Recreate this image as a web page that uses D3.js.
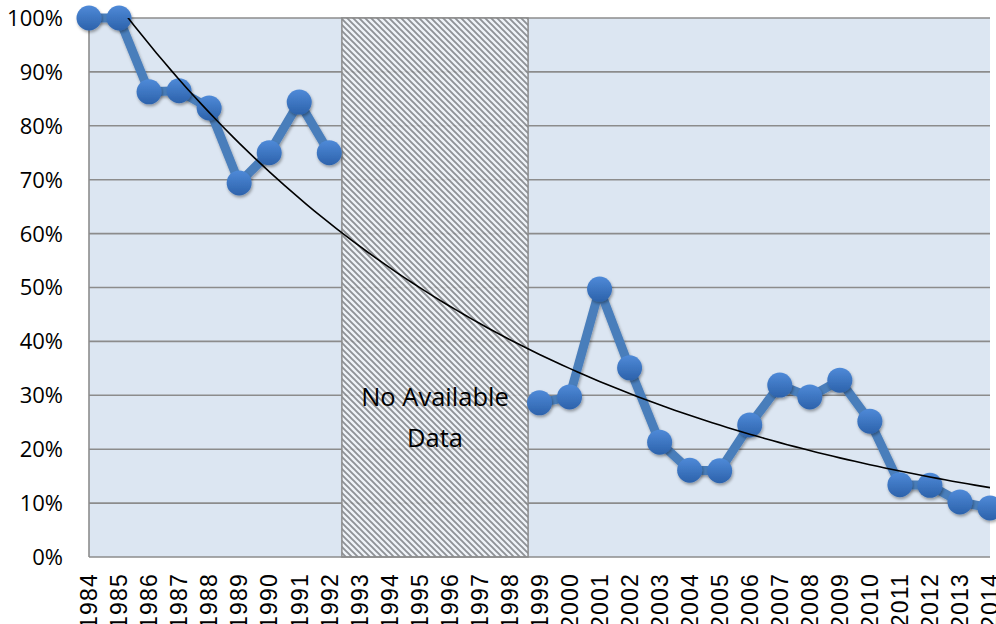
<!DOCTYPE html>
<html>
<head>
<meta charset="utf-8">
<script src="https://cdn.jsdelivr.net/npm/d3@7"></script>
<style>
  body { margin: 0; background: #fff; }
  svg { display: block; }
</style>
</head>
<body>
<svg id="chart"></svg>
<script>
const width = 996;
const height = 624;

// Data (percent); null = no data for that year
const years = [1984, 1985, 1986, 1987, 1988, 1989, 1990, 1991, 1992, 1993,
  1994, 1995, 1996, 1997, 1998, 1999, 2000, 2001, 2002, 2003, 2004, 2005,
  2006, 2007, 2008, 2009, 2010, 2011, 2012, 2013, 2014];
const share = [100, 100, 86.3, 86.5, 83.3, 69.4, 75, 84.4, 75, null,
  null, null, null, null, null, 28.6, 29.7, 49.7, 35.1, 21.3, 16.1, 16.0,
  24.5, 31.9, 29.7, 32.8, 25.2, 13.4, 13.3, 10.2, 9.1];
const yTicks = [0, 10, 20, 30, 40, 50, 60, 70, 80, 90, 100];
const gapYears = [1992.42, 1998.62];
const gapLabel = ["No Available", "Data"];

const margin = { top: 18, right: 6, bottom: 67, left: 89 };
const innerW = width - margin.left - margin.right;
const innerH = height - margin.top - margin.bottom;

const svg = d3.select("#chart")
  .attr("width", width)
  .attr("height", height);

const defs = svg.append("defs");

// Diagonal hatch for the gap
const hatch = defs.append("pattern")
  .attr("id", "hatch")
  .attr("patternUnits", "userSpaceOnUse")
  .attr("width", 6)
  .attr("height", 6);
hatch.append("rect")
  .attr("width", 6).attr("height", 6)
  .attr("fill", "#f2f5f9");
hatch.append("path")
  .attr("d", "M0,0L6,6M-3,3L3,9M3,-3L9,3")
  .attr("stroke", "#84868a")
  .attr("stroke-width", 1.9);

// Marker shading
const grad = defs.append("linearGradient")
  .attr("id", "dotGrad")
  .attr("x1", 0).attr("y1", 0).attr("x2", 0).attr("y2", 1);
grad.append("stop").attr("offset", "0%").attr("stop-color", "#4f8ad8");
grad.append("stop").attr("offset", "100%").attr("stop-color", "#2c62ab");

const shadow = defs.append("filter")
  .attr("id", "shadow")
  .attr("x", "-50%").attr("y", "-50%")
  .attr("width", "200%").attr("height", "200%");
shadow.append("feDropShadow")
  .attr("dx", 1).attr("dy", 2)
  .attr("stdDeviation", 1.5)
  .attr("flood-color", "#000")
  .attr("flood-opacity", 0.35);

defs.append("clipPath").attr("id", "plotClip")
  .append("rect")
  .attr("width", innerW)
  .attr("height", innerH);

const g = svg.append("g")
  .attr("transform", `translate(${margin.left},${margin.top})`);

const x = d3.scaleLinear()
  .domain([years[0], years[years.length - 1]])
  .range([0, innerW]);

const y = d3.scaleLinear()
  .domain([0, 100])
  .range([innerH, 0]);

// Plot background
g.append("rect")
  .attr("width", innerW)
  .attr("height", innerH)
  .attr("fill", "#dce6f2");

// Horizontal gridlines
g.append("g")
  .selectAll("line")
  .data(yTicks.filter(d => d > 0))
  .enter().append("line")
  .attr("x1", 0)
  .attr("x2", innerW)
  .attr("y1", d => y(d))
  .attr("y2", d => y(d))
  .attr("stroke", "#8c8c8c")
  .attr("stroke-width", 1.6);

// Gap region
const gapMid = (x(gapYears[0]) + x(gapYears[1])) / 2;
g.append("rect")
  .attr("x", x(gapYears[0]))
  .attr("y", 0)
  .attr("width", x(gapYears[1]) - x(gapYears[0]))
  .attr("height", innerH)
  .attr("fill", "url(#hatch)")
  .attr("fill-opacity", 0.88)
  .attr("stroke", "#8c8c8c")
  .attr("stroke-width", 1.5);

g.append("text")
  .attr("x", gapMid)
  .attr("y", y(28))
  .attr("text-anchor", "middle")
  .attr("font-family", "'Open Sans', sans-serif")
  .attr("font-size", 25.5)
  .attr("fill", "#000")
  .selectAll("tspan")
  .data(gapLabel)
  .enter().append("tspan")
  .attr("x", gapMid)
  .attr("dy", (d, i) => i === 0 ? 0 : 41)
  .text(d => d);

// Axis lines
g.append("line")
  .attr("x1", 0).attr("x2", 0)
  .attr("y1", 0).attr("y2", innerH)
  .attr("stroke", "#8c8c8c").attr("stroke-width", 1.6);
g.append("line")
  .attr("x1", 0).attr("x2", innerW)
  .attr("y1", innerH).attr("y2", innerH)
  .attr("stroke", "#8c8c8c").attr("stroke-width", 1.6);

// Y tick labels
g.append("g")
  .selectAll("text")
  .data(yTicks)
  .enter().append("text")
  .attr("x", -26)
  .attr("y", d => y(d))
  .attr("dy", "0.36em")
  .attr("text-anchor", "end")
  .attr("font-family", "'Open Sans', sans-serif")
  .attr("font-size", 22)
  .attr("fill", "#000")
  .text(d => d + "%");

// X tick labels (rotated)
g.append("g")
  .selectAll("text")
  .data(years)
  .enter().append("text")
  .attr("transform", d => `translate(${x(d)},${innerH + 16}) rotate(-90)`)
  .attr("dy", "0.36em")
  .attr("text-anchor", "end")
  .attr("font-family", "'Liberation Sans', Arial, sans-serif")
  .attr("font-size", 23)
  .attr("letter-spacing", 1.2)
  .attr("fill", "#000")
  .text(d => d);

// Data series
const points = years.map((yr, i) => ({ year: yr, value: share[i] }));

const line = d3.line()
  .defined(d => d.value !== null)
  .x(d => x(d.year))
  .y(d => y(d.value));

g.append("path")
  .datum(points)
  .attr("fill", "none")
  .attr("stroke", "#4a7ebb")
  .attr("stroke-width", 9)
  .attr("stroke-linejoin", "round")
  .attr("filter", "url(#shadow)")
  .attr("d", line);

g.append("g")
  .selectAll("circle")
  .data(points.filter(d => d.value !== null))
  .enter().append("circle")
  .attr("cx", d => x(d.year))
  .attr("cy", d => y(d.value))
  .attr("r", 12.5)
  .attr("fill", "url(#dotGrad)")
  .attr("filter", "url(#shadow)");

// Exponential trendline: least squares on ln(value)
const known = points.filter(d => d.value !== null);
const mx = d3.mean(known, d => d.year);
const my = d3.mean(known, d => Math.log(d.value));
const sxy = d3.sum(known, d => (d.year - mx) * (Math.log(d.value) - my));
const sxx = d3.sum(known, d => (d.year - mx) * (d.year - mx));
const slope = sxy / sxx;
const icpt = my - slope * mx;

const trendYears = d3.range(years[0], years[years.length - 1] + 0.01, 0.25);
const trend = d3.line()
  .x(d => x(d))
  .y(d => y(Math.exp(icpt + slope * d)));

g.append("path")
  .datum(trendYears)
  .attr("clip-path", "url(#plotClip)")
  .attr("fill", "none")
  .attr("stroke", "#000")
  .attr("stroke-width", 1.6)
  .attr("d", trend);
</script>
</body>
</html>
